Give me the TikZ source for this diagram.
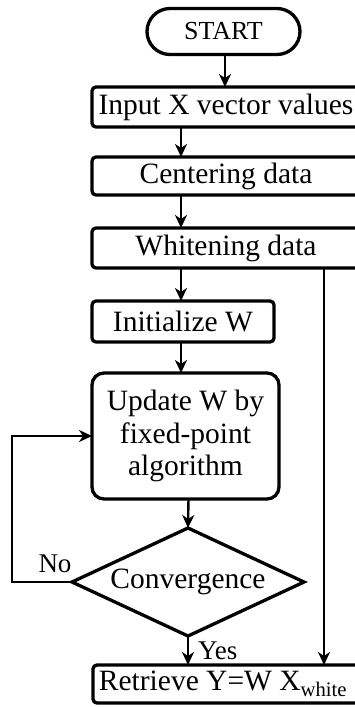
\documentclass[tikz,border=0pt]{standalone}
\usepackage{fontspec}
\setmainfont{Liberation Serif}
\usetikzlibrary{arrows.meta,shapes.geometric,shapes.misc}
\begin{document}
\begin{tikzpicture}[x=1pt,y=-1pt,
  every node/.style={inner sep=0pt,outer sep=0pt},
  procbox/.style={draw,line width=3.3pt,rounded corners=4pt,font=\fontsize{29.5}{32}\selectfont,anchor=center},
  arr/.style={line width=2.4pt,-{Stealth[length=13pt,width=12pt,inset=4pt]}},
  lbl/.style={font=\fontsize{27}{30}\selectfont}]
\useasboundingbox (0,0) rectangle (355,707);
\clip (0,0) rectangle (355,707);
\node[draw,line width=3.3pt,rounded rectangle,minimum width=153pt,minimum height=46pt,font=\fontsize{26}{28}\selectfont] (start) at (223.5,31.5) {START};
\node[procbox,minimum width=268pt,minimum height=40pt] (input) at (226,107) {Input X vector values};
\node[procbox,minimum width=268pt,minimum height=38pt] (center) at (226,176) {Centering data};
\node[procbox,minimum width=268pt,minimum height=40pt] (white) at (226,248) {Whitening data};
\node[procbox,minimum width=182pt,minimum height=41pt] (init) at (183,321.5) {Initialize W};
\node[procbox,rounded corners=12pt,minimum width=187pt,minimum height=126pt,align=center,font=\fontsize{29.5}{32.5}\selectfont] (update) at (185.5,436) {Update W by\\fixed-point\\algorithm};
\node[draw,line width=3.3pt,diamond,aspect=2.13,minimum width=232pt,minimum height=108pt,font=\fontsize{29.5}{32}\selectfont] (conv) at (188,582) {Convergence};
\node[procbox,minimum width=268pt,minimum height=38pt] (retr) at (227,684) {\hspace*{-8pt}Retrieve Y=W X\textsubscript{white}};
\coordinate (sx) at (225,0);
\coordinate (ix) at (181,0);
\coordinate (ux) at (188.5,0);
\coordinate (rx) at (324,0);
\coordinate (loopx) at (12,0);
\draw[arr] (start.south -| sx) -- (input.north -| sx);
\draw[arr] (input.south -| ix) -- (center.north -| ix);
\draw[arr] (center.south -| ix) -- (white.north -| ix);
\draw[arr] (white.south -| ix) -- (init.north -| ix);
\draw[arr] (init.south -| ix) -- (update.north -| ix);
\draw[arr] (update.south -| ux) -- (conv.north);
\draw[arr] (conv.south) -- (retr.north -| conv.south);
\draw[arr] (white.south -| rx) -- (retr.north -| rx);
\draw[arr] (conv.west) -| (loopx |- update.west) -- (update.west);
\node[lbl,anchor=south] (no) at (55,573) {No};
\node[lbl,anchor=west] (yes) at (198,651) {Yes};
\end{tikzpicture}
\end{document}
